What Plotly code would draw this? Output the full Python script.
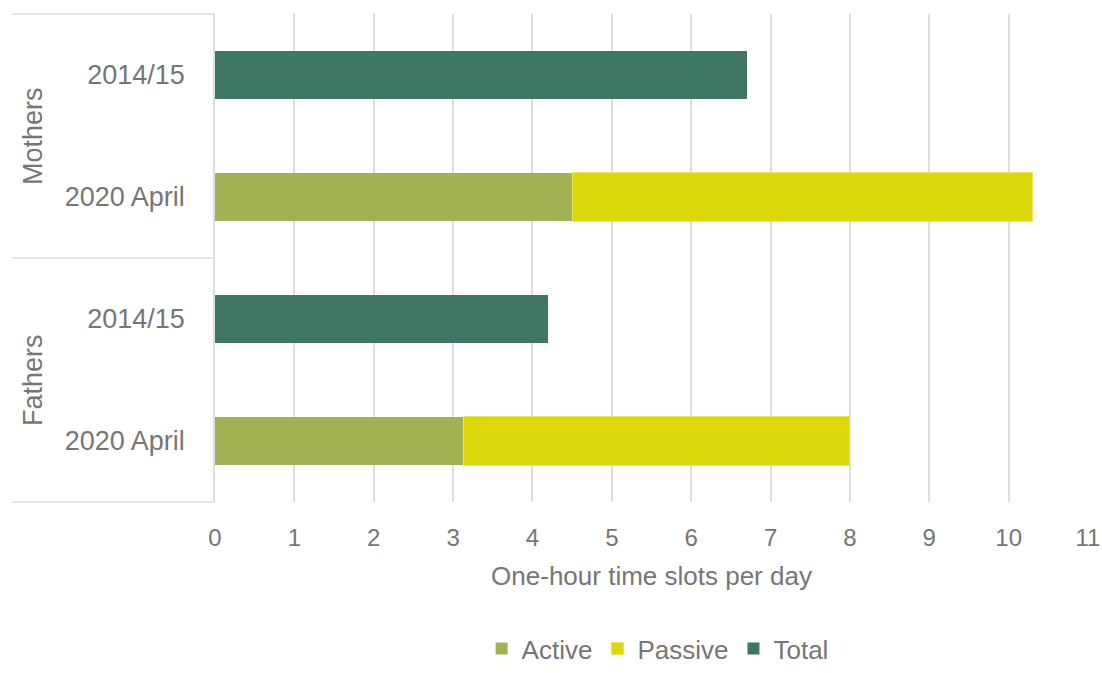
import plotly.graph_objects as go

groups = ["Mothers", "Mothers", "Fathers", "Fathers"]
periods = ["2014/15", "2020 April", "2014/15", "2020 April"]
active = [None, 4.5, None, 3.13]
passive = [None, 5.8, None, 4.87]
total = [6.7, None, 4.2, None]
x_ticks = list(range(0, 12))
group_names = ["Mothers", "Fathers"]

cats = [g + " | " + p for g, p in zip(groups, periods)]

TEXT = "#767676"
GRID = "#dedede"
FONT = "Liberation Sans, Arial, sans-serif"

fig = go.Figure()
fig.add_trace(go.Bar(name="Active", y=cats, x=active, orientation="h",
                     marker=dict(color="#a3b155", line=dict(width=0)), width=0.4))
fig.add_trace(go.Bar(name="Passive", y=cats, x=passive, orientation="h",
                     marker=dict(color="#dcd70a", line=dict(color="#ece65a", width=1)), width=0.4))
fig.add_trace(go.Bar(name="Total", y=cats, x=total, orientation="h",
                     marker=dict(color="#3e7763", line=dict(width=0)), width=0.4))

L, T, PW, PH = 215, 14, 873, 488
W, H = 1102, 673

fig.update_layout(
    barmode="stack",
    width=W, height=H,
    margin=dict(l=L, r=W - L - PW, t=T, b=H - T - PH, autoexpand=False),
    paper_bgcolor="white", plot_bgcolor="white",
    font=dict(family=FONT, color=TEXT, size=26),
    showlegend=True,
    legend=dict(orientation="h", x=0.507, xanchor="center", y=-(H - T - PH - 1) / PH, yanchor="bottom",
                font=dict(size=26, color=TEXT), itemwidth=30, traceorder="normal"),
    bargap=0.6,
)

fig.update_xaxes(
    range=[0, 11], tickvals=x_ticks, ticktext=[str(v) for v in x_ticks],
    showgrid=True, gridcolor=GRID, gridwidth=1.5,
    zeroline=False, showline=False, ticks="", automargin=False,
    ticklabelstandoff=19,
    tickfont=dict(size=24, color=TEXT),
    title=dict(text="One-hour time slots per day", font=dict(size=26, color=TEXT), standoff=16),
)
fig.update_yaxes(
    type="category", categoryorder="array", categoryarray=cats,
    tickmode="array", tickvals=cats, ticktext=periods,
    autorange="reversed", automargin=False,
    showgrid=False, zeroline=False,
    showline=True, linecolor=GRID, linewidth=1.5,
    ticks="", ticklabelstandoff=23,
    tickfont=dict(size=27, color=TEXT),
)

# group divider lines on the left
x_left = (12 - L) / PW
for yy in [1.0, 0.5, 0.0]:
    fig.add_shape(type="line", xref="paper", yref="paper", x0=x_left, x1=0, y0=yy, y1=yy,
                  line=dict(color=GRID, width=1.5))

for name, yy in zip(group_names, [0.75, 0.25]):
    fig.add_annotation(text=name, xref="paper", yref="paper", x=(33 - L) / PW, y=yy,
                       textangle=-90, showarrow=False, xanchor="center", yanchor="middle",
                       font=dict(size=27, color=TEXT))

fig.write_html(
    "out.html",
    config={"displayModeBar": False},
    post_script="document.body.style.margin='0';document.body.style.overflow='hidden';",
)
